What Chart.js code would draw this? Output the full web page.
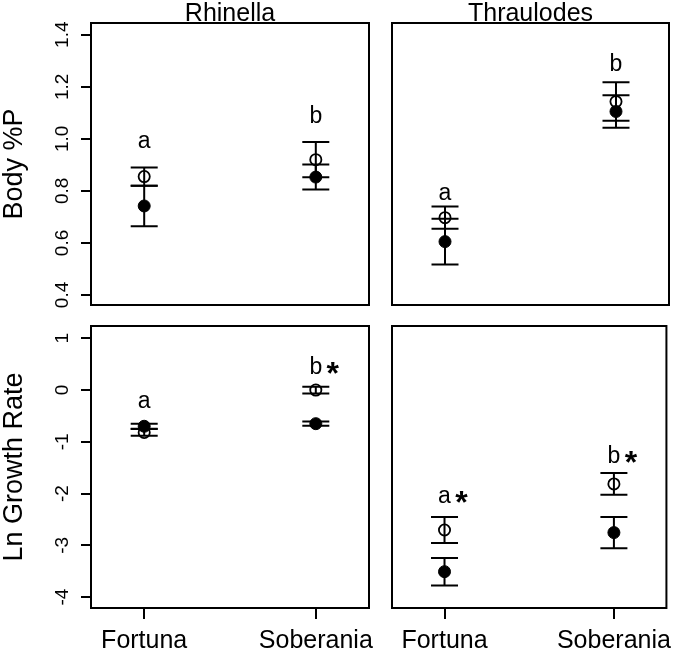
<!DOCTYPE html>
<html>
<head>
<meta charset="utf-8">
<script src="https://cdn.jsdelivr.net/npm/chart.js@4.4.0/dist/chart.umd.min.js"></script>
<style>
  html, body { margin: 0; padding: 0; background: #fff; }
  #wrap { position: relative; width: 680px; height: 653px; }
  #wrap canvas { position: absolute; left: 0; top: 0; }
</style>
</head>
<body>
<div id="wrap">
  <canvas id="rhiBody" width="680" height="653"></canvas>
  <canvas id="thrBody" width="680" height="653"></canvas>
  <canvas id="rhiGrow" width="680" height="653"></canvas>
  <canvas id="thrGrow" width="680" height="653"></canvas>
</div>
<script>
// categories
const sites = ["Fortuna", "Soberania"];
const siteX = [1, 2];

// tick labels
const bodyTicks = [0.4, 0.6, 0.8, 1.0, 1.2, 1.4];
const bodyTickLabels = ["0.4", "0.6", "0.8", "1.0", "1.2", "1.4"];
const growTicks = [-4, -3, -2, -1, 0, 1];
const growTickLabels = ["-4", "-3", "-2", "-1", "0", "1"];

// Rhinella, body %P
const rhiBodyOpen = [0.855, 0.92];
const rhiBodyOpenErr = [0.035, 0.068];
const rhiBodyFilled = [0.742, 0.853];
const rhiBodyFilledErr = [0.078, 0.048];
const rhiBodyLetters = ["a", "b"];
const rhiBodyLetterY = [0.995, 1.091];
const rhiBodyStars = [false, false];

// Thraulodes, body %P
const thrBodyOpen = [0.697, 1.143];
const thrBodyOpenErr = [0.043, 0.074];
const thrBodyFilled = [0.605, 1.105];
const thrBodyFilledErr = [0.088, 0.062];
const thrBodyLetters = ["a", "b"];
const thrBodyLetterY = [0.796, 1.292];
const thrBodyStars = [false, false];

// Rhinella, ln growth rate
const rhiGrowOpen = [-0.82, 0.0];
const rhiGrowOpenErr = [0.065, 0.065];
const rhiGrowFilled = [-0.70, -0.65];
const rhiGrowFilledErr = [0.05, 0.04];
const rhiGrowLetters = ["a", "b"];
const rhiGrowLetterY = [-0.197, 0.465];
const rhiGrowStars = [false, true];

// Thraulodes, ln growth rate
const thrGrowOpen = [-2.705, -1.815];
const thrGrowOpenErr = [0.25, 0.21];
const thrGrowFilled = [-3.51, -2.755];
const thrGrowFilledErr = [0.265, 0.3];
const thrGrowLetters = ["a", "b"];
const thrGrowLetterY = [-2.019, -1.259];
const thrGrowStars = [true, true];

const FONT = "'Liberation Sans', Arial, Helvetica, sans-serif";
const W = 680, H = 653;

function pts(vals) {
  return vals.map((v, i) => ({ x: siteX[i], y: v }));
}

function makePanel(o) {
  const box = o.box;
  const showY = !!o.yTitle;
  const showX = !!o.showX;

  const deco = {
    id: "deco",
    beforeDatasetsDraw(chart) {
      // error bars, under the points
      const ctx = chart.ctx, xs = chart.scales.x, ys = chart.scales.y;
      ctx.save();
      ctx.strokeStyle = "#000";
      ctx.lineWidth = 2;
      o.bars.forEach(b => {
        b.vals.forEach((v, i) => {
          const px = xs.getPixelForValue(siteX[i]);
          const top = ys.getPixelForValue(v + b.err[i]);
          const bot = ys.getPixelForValue(v - b.err[i]);
          ctx.beginPath();
          ctx.moveTo(px, top); ctx.lineTo(px, bot);
          ctx.moveTo(px - 13.5, top); ctx.lineTo(px + 13.5, top);
          ctx.moveTo(px - 13.5, bot); ctx.lineTo(px + 13.5, bot);
          ctx.stroke();
        });
      });
      ctx.restore();
    },
    afterDraw(chart) {
      const ctx = chart.ctx, xs = chart.scales.x, ys = chart.scales.y;
      const a = chart.chartArea;
      ctx.save();
      ctx.strokeStyle = "#000";
      ctx.lineWidth = 2;
      ctx.strokeRect(a.left, a.top, a.right - a.left, a.bottom - a.top);
      ctx.fillStyle = "#000";
      // group letters
      o.letters.forEach((t, i) => {
        const px = xs.getPixelForValue(siteX[i]);
        const py = ys.getPixelForValue(o.letterY[i]);
        ctx.font = "23px " + FONT;
        ctx.textAlign = "center";
        ctx.textBaseline = "alphabetic";
        ctx.fillText(t, px, py + 8);
        if (o.stars[i]) {
          ctx.font = "bold 32px " + FONT;
          ctx.fillText("*", px + 17, py + 18);
        }
      });
      // panel title
      if (o.title) {
        ctx.font = "25px " + FONT;
        ctx.textAlign = "center";
        ctx.textBaseline = "alphabetic";
        ctx.fillText(o.title, (a.left + a.right) / 2, 21);
      }
      // rotated y tick labels
      if (o.yLabels) {
        ctx.font = "19px " + FONT;
        ctx.textAlign = "center";
        ctx.textBaseline = "alphabetic";
        o.yTicks.forEach((v, i) => {
          ctx.save();
          ctx.translate(68, ys.getPixelForValue(v));
          ctx.rotate(-Math.PI / 2);
          ctx.fillText(o.yLabels[i], 0, 0);
          ctx.restore();
        });
      }
      ctx.restore();
    }
  };

  new Chart(document.getElementById(o.id), {
    type: "scatter",
    data: {
      datasets: [
        {
          data: pts(o.bars[1].vals),
          pointRadius: 6,
          pointBorderWidth: 1,
          pointBackgroundColor: "#000",
          pointBorderColor: "#000"
        },
        {
          data: pts(o.bars[0].vals),
          pointRadius: 5.6,
          pointBorderWidth: 1.8,
          pointBackgroundColor: "rgba(0,0,0,0)",
          pointBorderColor: "#000"
        }
      ]
    },
    options: {
      responsive: false,
      animation: false,
      devicePixelRatio: 1,
      layout: {
        padding: {
          left: showY ? 0 : box.l,
          top: box.t,
          right: W - box.r,
          bottom: showX ? 0 : H - box.b
        }
      },
      plugins: { legend: { display: false }, tooltip: { enabled: false } },
      scales: {
        x: {
          type: "linear",
          min: 0.69, max: 2.31,
          display: showX,
          afterBuildTicks: s => { s.ticks = siteX.map(v => ({ value: v })); },
          afterFit: s => { s.height = showX ? H - box.b : 0; },
          ticks: {
            callback: v => sites[siteX.indexOf(v)],
            font: { size: 25, family: FONT },
            color: "#000",
            padding: 7,
            autoSkip: false,
            maxRotation: 0, minRotation: 0
          },
          grid: { drawOnChartArea: false, tickLength: 11, color: "#000", lineWidth: 2 },
          border: { display: false }
        },
        y: {
          type: "linear",
          min: o.yMin, max: o.yMax,
          display: showY,
          afterBuildTicks: s => { s.ticks = o.yTicks.map(v => ({ value: v })); },
          afterFit: s => { s.width = showY ? box.l : 0; },
          ticks: { display: false },
          grid: { drawOnChartArea: false, tickLength: 10, color: "#000", lineWidth: 2 },
          border: { display: false },
          title: {
            display: showY,
            text: o.yTitle || "",
            color: "#000",
            padding: 0,
            font: { size: 27, family: FONT, lineHeight: 1.05 }
          }
        }
      }
    },
    plugins: [deco]
  });
}

makePanel({
  id: "rhiBody", box: { l: 91, t: 23, r: 369, b: 305 },
  yMin: 0.3615, yMax: 1.445, yTicks: bodyTicks, yLabels: bodyTickLabels,
  yTitle: "Body %P", title: "Rhinella",
  bars: [{ vals: rhiBodyOpen, err: rhiBodyOpenErr }, { vals: rhiBodyFilled, err: rhiBodyFilledErr }],
  letters: rhiBodyLetters, letterY: rhiBodyLetterY, stars: rhiBodyStars
});
makePanel({
  id: "thrBody", box: { l: 392, t: 23, r: 669, b: 305 },
  yMin: 0.3615, yMax: 1.445, yTicks: bodyTicks,
  title: "Thraulodes",
  bars: [{ vals: thrBodyOpen, err: thrBodyOpenErr }, { vals: thrBodyFilled, err: thrBodyFilledErr }],
  letters: thrBodyLetters, letterY: thrBodyLetterY, stars: thrBodyStars
});
makePanel({
  id: "rhiGrow", box: { l: 91, t: 326, r: 369, b: 608 },
  yMin: -4.212, yMax: 1.2375, yTicks: growTicks, yLabels: growTickLabels,
  yTitle: "Ln Growth Rate", showX: true,
  bars: [{ vals: rhiGrowOpen, err: rhiGrowOpenErr }, { vals: rhiGrowFilled, err: rhiGrowFilledErr }],
  letters: rhiGrowLetters, letterY: rhiGrowLetterY, stars: rhiGrowStars
});
makePanel({
  id: "thrGrow", box: { l: 392, t: 326, r: 669, b: 608 },
  yMin: -4.212, yMax: 1.2375, yTicks: growTicks, showX: true,
  bars: [{ vals: thrGrowOpen, err: thrGrowOpenErr }, { vals: thrGrowFilled, err: thrGrowFilledErr }],
  letters: thrGrowLetters, letterY: thrGrowLetterY, stars: thrGrowStars
});
</script>
</body>
</html>
